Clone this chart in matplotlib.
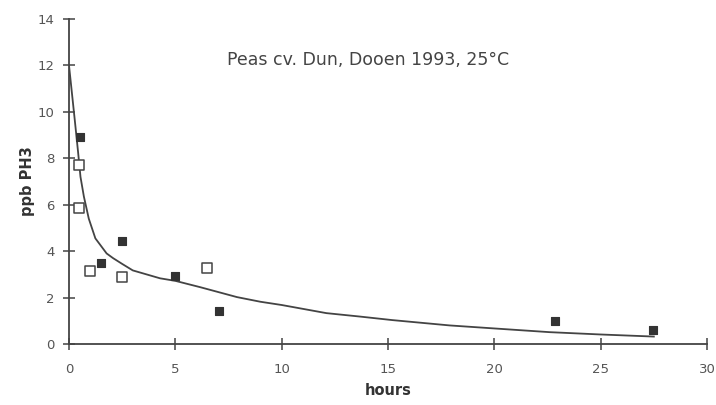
import matplotlib
matplotlib.use("Agg")
import matplotlib.pyplot as plt

# Filled squares
filled_x = [0.52, 1.5, 2.5, 5.0, 7.05, 22.85, 27.46]
filled_y = [8.9, 3.5, 4.42, 2.92, 1.42, 1.0, 0.62]

# Open squares
open_x = [0.47, 0.47, 1.0, 2.5, 6.5]
open_y = [7.72, 5.88, 3.13, 2.88, 3.26]

# Fitted curve
curve_x = [0, 0.27, 0.43, 0.54, 0.70, 0.93, 1.24, 1.77, 2.07, 2.5, 3.0, 4.28, 5.0,
           6.16, 7.9, 9.0, 10.0, 12.1, 13.7, 15.2, 17.9, 20, 22.6, 25, 27.5]
curve_y = [12, 9.66, 8.24, 7.2, 6.35, 5.4, 4.55, 3.9, 3.7, 3.45, 3.17, 2.83, 2.72,
           2.45, 2.02, 1.82, 1.68, 1.33, 1.18, 1.03, 0.8, 0.67, 0.51, 0.41, 0.32]

xticks = [0, 5, 10, 15, 20, 25, 30]
yticks = [0, 2, 4, 6, 8, 10, 12, 14]

title = "Peas cv. Dun, Dooen 1993, 25°C"

fig = plt.figure(figsize=(7.16, 4.05), dpi=100)
ax = fig.add_axes([69/716, 1-344/405, (707-69)/716, (344-19)/405])

ink = "#444444"
txt = "#555555"

ax.plot(curve_x, curve_y, color=ink, lw=1.3, zorder=2)
ax.scatter(filled_x, filled_y, marker="s", s=30, facecolor="#333333",
           edgecolor="#333333", linewidths=0.8, zorder=3)
ax.scatter(open_x, open_y, marker="s", s=52, facecolor="white",
           edgecolor=ink, linewidths=1.1, zorder=3)

ax.set_xlim(0, 30)
ax.set_ylim(0, 14)
ax.set_xticks(xticks)
ax.set_yticks(yticks)

for s in ["top", "right"]:
    ax.spines[s].set_visible(False)
for s in ["left", "bottom"]:
    ax.spines[s].set_color(ink)
    ax.spines[s].set_linewidth(1.3)

ax.tick_params(axis="both", direction="inout", length=9, width=1.1,
               color=ink, labelcolor=txt, labelsize=9.5)
ax.tick_params(axis="x", pad=9)
ax.tick_params(axis="y", pad=6)

ax.set_xlabel("hours", fontsize=10.5, fontweight="bold", color="#333333", labelpad=5)
ax.set_ylabel("ppb PH3", fontsize=10.5, fontweight="bold", color="#333333", labelpad=2)

ax.text(0.469, 0.875, title, transform=ax.transAxes, ha="center", va="center",
        fontsize=12.5, color="#444444")

fig.savefig("out.png", dpi=100)
